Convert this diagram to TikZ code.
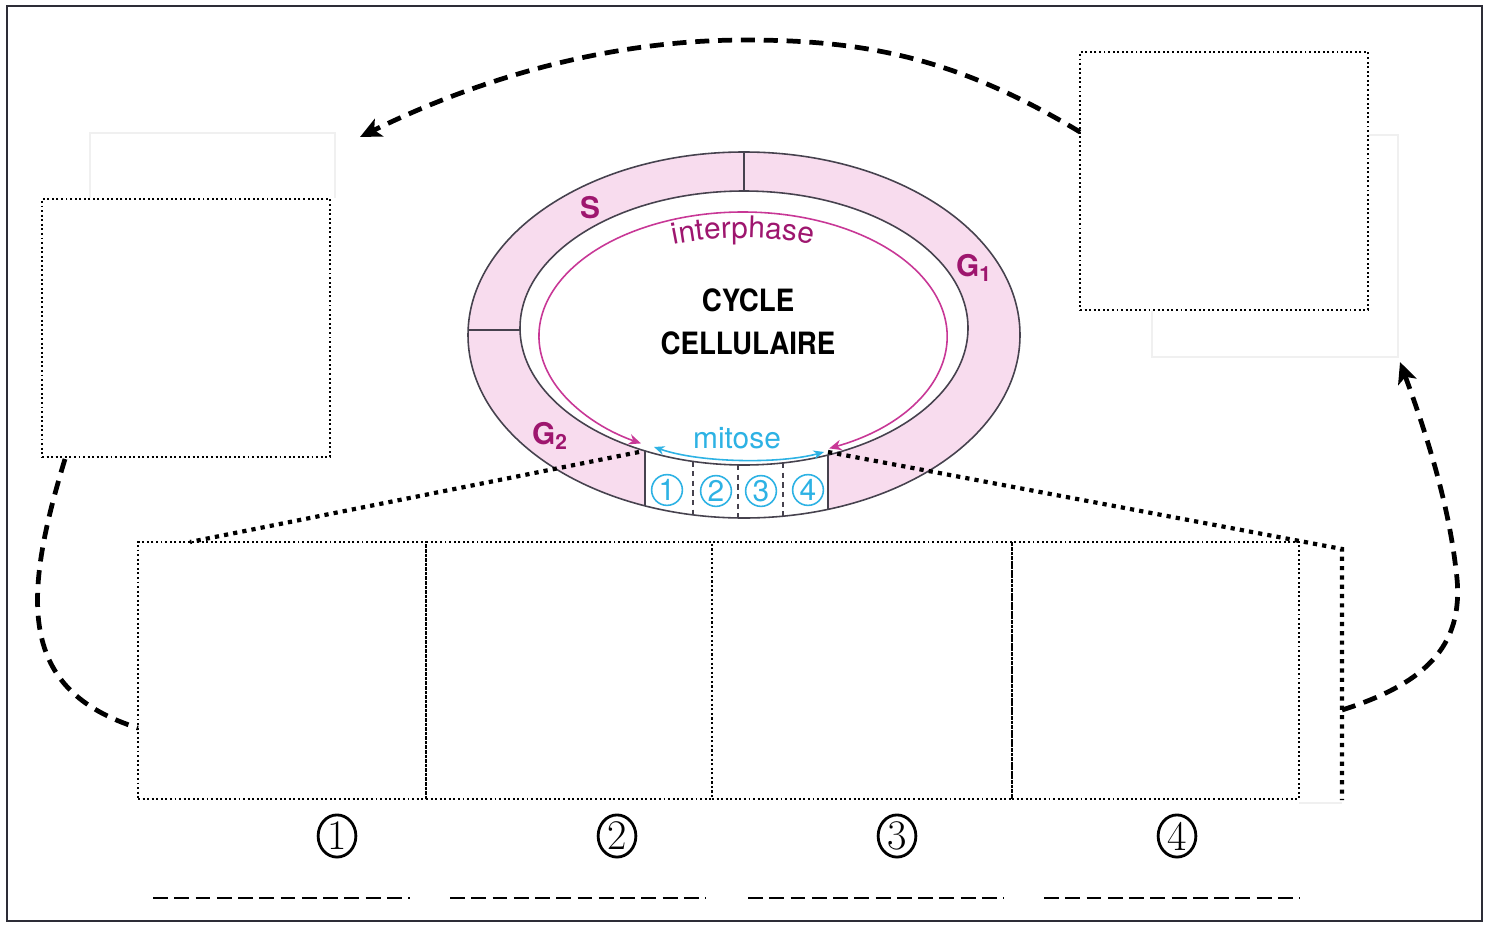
\documentclass[tikz,border=0pt]{standalone}
\usepackage{fontspec}
\newfontfamily\hv{TeX Gyre Heros}
\newfontfamily\hvcond[FakeStretch=0.9]{TeX Gyre Heros}
\usetikzlibrary{arrows.meta, decorations.text, fit, shapes.geometric}

\definecolor{ringpink}{RGB}{248,220,238}
\definecolor{phase}{RGB}{158,22,110}
\definecolor{interline}{RGB}{200,55,150}
\definecolor{mitcyan}{RGB}{45,178,228}
\definecolor{ringline}{RGB}{70,66,78}
\definecolor{framecol}{RGB}{45,45,55}

\tikzset{
  dotbox/.style={draw, line width=1.1pt, dash pattern=on 1.1pt off 1.5pt, inner sep=0pt},
  faint/.style={draw=black!6, line width=0.6pt},
  bigdots/.style={line width=2.4pt, dash pattern=on 2.4pt off 2.9pt},
  bigdash/.style={line width=2.7pt, dash pattern=on 8pt off 5pt},
  tipbig/.style={-{Stealth[length=12pt, width=11pt, inset=3pt]}},
  answer/.style={line width=1.5pt, dash pattern=on 8.5pt off 3.6pt},
  phasetxt/.style={text=phase, font=\hv\bfseries\fontsize{17}{17}\selectfont, inner sep=0pt},
  titletxt/.style={font=\hvcond\bfseries\fontsize{17.5}{17.5}\selectfont, inner sep=0pt},
  mitnum/.style={circle, draw=mitcyan, line width=0.9pt, text=mitcyan, minimum size=17.5pt,
    inner sep=0pt, font=\hv\fontsize{17}{17}\selectfont},
  numlab/.style={ellipse, draw, line width=1.6pt, minimum width=21.5pt, minimum height=24pt,
    inner sep=0pt, font=\fontsize{24}{24}\selectfont},
}

\begin{document}
\begin{tikzpicture}[x=0.02cm, y=-0.02cm]
\useasboundingbox (0,0) rectangle (1490,926);
\fill[white] (0,0) rectangle (1490,926);
\draw[framecol, line width=1.4pt] (7,6) rectangle (1482,921);

% faint guide frames behind the answer boxes
\draw[faint] (90,198) -- (90,133) -- (335,133) -- (335,198);
\draw[faint] (1368,135) -- (1398,135) -- (1398,357) -- (1152,357) -- (1152,311);
\draw[faint] (1299,803) -- (1342,803);

% ---- cell cycle ring ----
\fill[ringpink, even odd rule]
  (744,335) ellipse [x radius=276, y radius=183]
  (744,328) ellipse [x radius=224, y radius=137];
\begin{scope}
  \clip (645,380) rectangle (828,540);
  \fill[white] (744,335) ellipse [x radius=276, y radius=183];
\end{scope}
\draw[ringline, line width=0.9pt] (744,335) ellipse [x radius=276, y radius=183];
\draw[ringline, line width=0.9pt] (744,328) ellipse [x radius=224, y radius=137];
\draw[ringline, line width=0.9pt] (744,152) -- (744,191);
\draw[ringline, line width=0.9pt] (468,330) -- (520,330);
\draw[ringline, line width=0.9pt] (645,450.9) -- (645,505.8);
\draw[ringline, line width=0.9pt] (828,455.0) -- (828,509.3);
\draw[ringline, line width=0.7pt, dash pattern=on 3pt off 2.5pt] (693,461.4) -- (693,514.9);
\draw[ringline, line width=0.7pt, dash pattern=on 3pt off 2.5pt] (738,465) -- (738,518);
\draw[ringline, line width=0.7pt, dash pattern=on 3pt off 2.5pt] (783,462.9) -- (783,516.2);

% interphase arc and label
\draw[interline, line width=0.9pt, {Stealth[length=7pt, width=6pt]}-{Stealth[length=7pt, width=6pt]}]
  (829.2,448.4) arc [start angle=65, end angle=-240, x radius=204, y radius=124];
\path[decorate, decoration={text along path, text align=center,
  text={|\hv\fontsize{17}{17}\selectfont\color{phase}|interphase}}]
  (743,336) ++(-135:190 and 98) arc [start angle=-135, end angle=-45, x radius=190, y radius=98];

% mitosis arc and label
\draw[mitcyan, line width=0.9pt, {Stealth[length=6pt, width=5pt]}-{Stealth[length=6pt, width=5pt]}]
  (654,447) .. controls (700,463) and (780,464) .. (824,452);
\node[text=mitcyan, font=\hv\fontsize{17}{17}\selectfont, inner sep=0pt] (mitose) at (737,438) {mitose};

\node[mitnum] (m1) at (667,490) {1};
\node[mitnum] (m2) at (716,491) {2};
\node[mitnum] (m3) at (761,491) {3};
\node[mitnum] (m4) at (808,490) {4};

% phase labels
\node[phasetxt] (S) at (590,208) {S};
\node[phasetxt] (G1) at (974,268) {G\textsubscript{1}};
\node[phasetxt] (G2) at (550,436) {G\textsubscript{2}};
\node[titletxt] (cycle) at (748,300) {CYCLE};
\node[titletxt] (cellulaire) at (748,343) {CELLULAIRE};

% ---- answer boxes ----
\node[dotbox, fit={(42,199) (330,457)}] (boxL) {};
\node[dotbox, fit={(1080,52) (1368,310)}] (boxR) {};
\node[dotbox, fit={(138,542) (426,799)}] (b1) {};
\node[dotbox, fit={(426,542) (712,799)}] (b2) {};
\node[dotbox, fit={(712,542) (1012,799)}] (b3) {};
\node[dotbox, fit={(1012,542) (1299,799)}] (b4) {};

% zoom lines from the mitosis sector to the row of boxes
\coordinate (lmit) at (639,452);
\coordinate (rmit) at (828,452);
\coordinate (b1top) at (190,542);
\coordinate (rcorner) at (1342,549);
\coordinate (rfoot) at (1342,800);
\draw[bigdots] (lmit) -- (b1top);
\draw[bigdots] (rmit) -- (rcorner) -- (rfoot);

% dashed cycle arrows between the boxes
\coordinate (tStart) at (1080,132);
\coordinate (tEnd) at (360,137);
\draw[bigdash, tipbig] (tStart) .. controls (960,60) and (870,40) .. (745,40)
  .. controls (610,40) and (480,78) .. (tEnd);
\coordinate (lStart) at (65,459);
\coordinate (lEnd) at (138,728);
\draw[bigdash] (lStart) .. controls (22,600) and (18,690) .. (lEnd);
\coordinate (rStart) at (1342,710);
\coordinate (rEnd) at (1400,362);
\draw[bigdash, tipbig] (rStart) .. controls (1430,682) and (1466,642) .. (1456,570)
  .. controls (1448,500) and (1425,430) .. (rEnd);

% numbering and answer lines
\node[numlab] (n1) at (337,836) {1};
\node[numlab] (n2) at (617,836) {2};
\node[numlab] (n3) at (897,836) {3};
\node[numlab] (n4) at (1177,836) {4};
\draw[answer] (153,898) -- (410,898);
\draw[answer] (450,898) -- (706,898);
\draw[answer] (748,898) -- (1004,898);
\draw[answer] (1044,898) -- (1300,898);
\end{tikzpicture}
\end{document}
